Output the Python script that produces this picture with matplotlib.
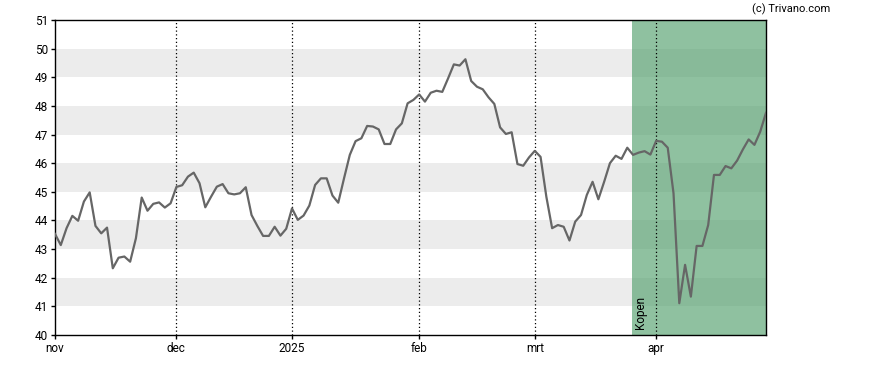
import matplotlib
matplotlib.use('Agg')
import matplotlib.pyplot as plt
import numpy as np
import pandas as pd

plt.rcParams['font.family'] = ['Roboto', 'DejaVu Sans']

# trading days (Euronext): nov 2024 - apr 2025
holidays = ['2024-12-25', '2024-12-26', '2025-01-01', '2025-04-18', '2025-04-21']
dates = pd.bdate_range('2024-11-01', '2025-04-30')
dates = dates[~dates.isin(pd.to_datetime(holidays))]

prices = [
    # nov
    43.53, 43.14, 43.73, 44.16, 43.99, 44.66, 44.98, 43.81, 43.55, 43.75,
    42.33, 42.70, 42.74, 42.56, 43.38, 44.80, 44.34, 44.58, 44.63, 44.45,
    44.60,
    # dec
    45.17, 45.23, 45.53, 45.67, 45.30, 44.46, 44.83, 45.18, 45.27, 44.95,
    44.91, 44.95, 45.16, 44.19, 43.81, 43.46, 43.46, 43.78, 43.47, 43.71,
    # jan
    44.42, 44.02, 44.17, 44.52, 45.24, 45.47, 45.47, 44.87, 44.62, 45.47,
    46.29, 46.77, 46.87, 47.30, 47.28, 47.18, 46.67, 46.67, 47.18, 47.39,
    48.09, 48.21,
    # feb
    48.40, 48.15, 48.46, 48.53, 48.49, 48.96, 49.45, 49.41, 49.63, 48.87,
    48.67, 48.58, 48.30, 48.07, 47.25, 47.02, 47.08, 45.97, 45.91, 46.20,
    # mrt
    46.43, 46.22, 44.83, 43.73, 43.84, 43.78, 43.30, 43.96, 44.19, 44.89,
    45.35, 44.74, 45.35, 46.00, 46.26, 46.15, 46.54, 46.29, 46.37, 46.42,
    46.30,
    # apr
    46.78, 46.75, 46.54, 44.95, 41.11, 42.45, 41.34, 43.11, 43.11, 43.84,
    45.59, 45.59, 45.90, 45.82, 46.09, 46.48, 46.83, 46.64, 47.10, 47.76,
]

month_labels = ['nov', 'dec', '2025', 'feb', 'mrt', 'apr']
signal_date = '2025-03-26'
signal_label = 'Kopen'

x = np.arange(len(dates))
month_idx = [int(np.argmax(dates.month == m)) for m in [11, 12, 1, 2, 3, 4]]
signal_idx = int(np.argmax(dates >= pd.Timestamp(signal_date)))

fig = plt.figure(figsize=(8.88, 3.70), dpi=100)
ax = fig.add_axes([55 / 888, 1 - 335 / 370, 711 / 888, 315 / 370])

# grey bands
for lo in range(41, 51, 2):
    ax.axhspan(lo, lo + 1, color='#ececec', lw=0, zorder=0)

# buy zone
ax.axvspan(signal_idx - 0.2, x[-1], color='#53a06d', alpha=0.65, lw=0, zorder=1)

for i in month_idx[1:]:
    ax.axvline(i, color='black', ls=(0, (1, 2)), lw=0.9, zorder=2)

ax.plot(x, prices, color='#666666', lw=1.6, zorder=3)

ax.text(signal_idx + 1.3, 40.2, signal_label, rotation=90, fontsize=8.5,
        ha='center', va='bottom', zorder=4)

ax.set_xlim(x[0], x[-1])
ax.set_ylim(40, 51)
ax.set_yticks(range(40, 52))
ax.set_xticks(month_idx)
ax.set_xticklabels(month_labels)
ax.tick_params(length=3, width=1, labelsize=8.5, colors='black', pad=2)
for s in ax.spines.values():
    s.set_linewidth(1)

fig.text(830 / 888, 1 - 9 / 370, '(c) Trivano.com', fontsize=8, ha='right', va='center')

plt.savefig('out.png', dpi=100)
